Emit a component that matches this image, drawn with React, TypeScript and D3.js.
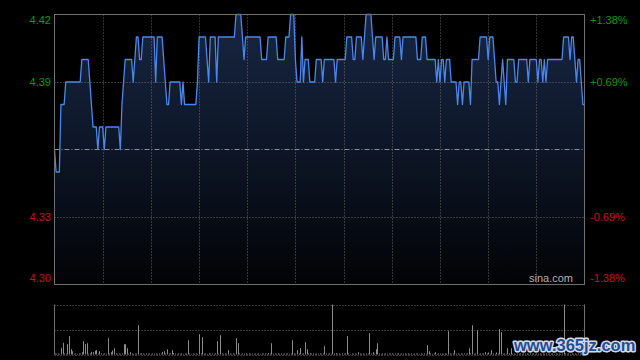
import React from "react";
import * as d3 from "d3";

// per-minute last price (HK session, 331 points)
const PRICE: number[] = [
  4.36, 4.35, 4.35, 4.35, 4.38, 4.38, 4.38, 4.39, 4.39, 4.39,
  4.39, 4.39, 4.39, 4.39, 4.39, 4.39, 4.39, 4.40, 4.40, 4.40,
  4.40, 4.40, 4.39, 4.38, 4.37, 4.37, 4.37, 4.36, 4.37, 4.37,
  4.37, 4.36, 4.37, 4.37, 4.37, 4.37, 4.37, 4.37, 4.37, 4.37,
  4.37, 4.36, 4.38, 4.39, 4.40, 4.40, 4.40, 4.40, 4.40, 4.39,
  4.40, 4.41, 4.41, 4.40, 4.40, 4.41, 4.41, 4.41, 4.41, 4.41,
  4.41, 4.41, 4.41, 4.39, 4.41, 4.41, 4.41, 4.41, 4.40, 4.39,
  4.38, 4.38, 4.39, 4.39, 4.39, 4.39, 4.39, 4.39, 4.39, 4.38,
  4.39, 4.38, 4.38, 4.38, 4.38, 4.38, 4.38, 4.38, 4.38, 4.39,
  4.41, 4.41, 4.41, 4.41, 4.41, 4.40, 4.39, 4.41, 4.41, 4.41,
  4.41, 4.39, 4.41, 4.41, 4.41, 4.41, 4.41, 4.41, 4.41, 4.41,
  4.41, 4.41, 4.41, 4.42, 4.42, 4.42, 4.42, 4.41, 4.40, 4.41,
  4.41, 4.41, 4.41, 4.41, 4.41, 4.41, 4.41, 4.41, 4.41, 4.40,
  4.40, 4.40, 4.40, 4.41, 4.41, 4.41, 4.41, 4.41, 4.41, 4.40,
  4.40, 4.40, 4.40, 4.40, 4.41, 4.41, 4.41, 4.42, 4.42, 4.42,
  4.40, 4.39, 4.39, 4.39, 4.41, 4.39, 4.40, 4.40, 4.40, 4.39,
  4.39, 4.39, 4.39, 4.40, 4.40, 4.40, 4.40, 4.39, 4.40, 4.40,
  4.40, 4.40, 4.40, 4.40, 4.40, 4.39, 4.40, 4.40, 4.40, 4.40,
  4.40, 4.40, 4.41, 4.41, 4.41, 4.41, 4.40, 4.40, 4.41, 4.41,
  4.41, 4.41, 4.40, 4.41, 4.42, 4.42, 4.42, 4.42, 4.41, 4.40,
  4.41, 4.41, 4.41, 4.41, 4.41, 4.40, 4.40, 4.41, 4.40, 4.40,
  4.40, 4.40, 4.41, 4.41, 4.41, 4.41, 4.40, 4.41, 4.41, 4.41,
  4.41, 4.41, 4.41, 4.41, 4.41, 4.41, 4.40, 4.40, 4.40, 4.41,
  4.41, 4.41, 4.40, 4.40, 4.40, 4.40, 4.40, 4.40, 4.39, 4.40,
  4.39, 4.40, 4.40, 4.39, 4.40, 4.40, 4.40, 4.39, 4.39, 4.39,
  4.39, 4.38, 4.39, 4.39, 4.38, 4.39, 4.39, 4.39, 4.39, 4.38,
  4.40, 4.40, 4.40, 4.40, 4.40, 4.41, 4.41, 4.41, 4.41, 4.41,
  4.40, 4.41, 4.41, 4.41, 4.40, 4.39, 4.39, 4.38, 4.39, 4.40,
  4.39, 4.38, 4.40, 4.40, 4.40, 4.40, 4.40, 4.39, 4.39, 4.40,
  4.40, 4.40, 4.40, 4.40, 4.40, 4.39, 4.40, 4.40, 4.40, 4.40,
  4.40, 4.39, 4.40, 4.40, 4.39, 4.40, 4.39, 4.40, 4.40, 4.40,
  4.40, 4.40, 4.40, 4.40, 4.40, 4.40, 4.40, 4.41, 4.41, 4.41,
  4.41, 4.40, 4.41, 4.41, 4.40, 4.39, 4.40, 4.40, 4.39, 4.38,
  4.38,
];

// per-minute volume (relative units)
const VOLUME: number[] = [
  10, 8, 10, 6, 67, 117, 10, 8, 103, 183,
  53, 33, 8, 10, 6, 10, 8, 23, 133, 103,
  113, 8, 10, 27, 23, 37, 43, 8, 33, 10,
  6, 10, 8, 163, 10, 23, 40, 63, 10, 8,
  10, 6, 10, 103, 103, 63, 8, 23, 10, 6,
  8, 10, 293, 8, 13, 10, 6, 10, 8, 10,
  6, 10, 8, 10, 6, 10, 8, 23, 33, 10,
  53, 8, 10, 43, 15, 10, 6, 10, 8, 10,
  6, 10, 8, 143, 10, 6, 10, 8, 10, 6,
  203, 10, 173, 8, 10, 6, 10, 8, 10, 6,
  10, 133, 8, 193, 10, 6, 10, 8, 43, 10,
  6, 10, 8, 163, 113, 10, 6, 10, 8, 10,
  6, 10, 8, 10, 6, 10, 8, 10, 6, 10,
  8, 10, 6, 15, 10, 113, 8, 10, 6, 10,
  8, 10, 6, 10, 8, 10, 6, 10, 143, 10,
  8, 43, 10, 63, 8, 10, 123, 53, 10, 13,
  8, 10, 6, 10, 8, 10, 6, 10, 83, 10,
  8, 10, 6, 500, 10, 13, 8, 10, 6, 10,
  8, 10, 183, 10, 6, 10, 8, 10, 6, 23,
  10, 8, 10, 6, 10, 8, 213, 10, 23, 8,
  53, 113, 10, 6, 10, 8, 10, 6, 10, 8,
  10, 6, 10, 8, 10, 6, 10, 8, 10, 6,
  10, 8, 10, 6, 10, 8, 10, 6, 10, 8,
  10, 6, 93, 33, 10, 8, 10, 23, 6, 10,
  8, 10, 6, 10, 8, 233, 10, 6, 10, 43,
  8, 10, 6, 10, 8, 10, 6, 10, 63, 10,
  293, 8, 10, 243, 6, 10, 8, 10, 23, 10,
  20, 8, 43, 10, 6, 20, 10, 253, 223, 8,
  10, 6, 63, 10, 63, 8, 10, 6, 10, 8,
  10, 6, 10, 8, 10, 6, 10, 8, 10, 6,
  10, 8, 10, 6, 10, 8, 10, 6, 10, 8,
  10, 6, 10, 8, 10, 6, 10, 500, 10, 8,
  10, 6, 10, 8, 10, 6, 10, 8, 10, 6,
  10,
];

const PREV_CLOSE = 4.36;
const PRICE_TICKS = [4.42, 4.39, 4.33, 4.3];
const PRICE_LABELS = ["4.42", "4.39", "4.33", "4.30"];
const PCT_LABELS = ["+1.38%", "+0.69%", "-0.69%", "-1.38%"];
const GRID_MINUTES = [30, 60, 90, 120, 150, 180, 210, 240, 270, 300];
const TOTAL_MINUTES = 330;

export default function App() {
  const W = 640, H = 360;
  const L = 54.5, R = 584.5, T = 14.5, B = 284.5;
  const VT = 304.5, VB = 354.5;

  const x = d3.scaleLinear().domain([0, TOTAL_MINUTES]).range([L, R]);
  const y = d3.scaleLinear().domain([4.3, 4.42]).range([B, T]);
  const vy = d3.scaleLinear().domain([0, d3.max(VOLUME) as number]).range([VB, VT]);

  const line = d3.line<number>().x((_, i) => x(i)).y((d) => y(d));
  const area = d3.area<number>().x((_, i) => x(i)).y0(B).y1((d) => y(d));

  const gridColor = "#6a6a6a";
  const font = "'Liberation Sans', Arial, sans-serif";
  const clampY = (v: number) => Math.max(T + 6, Math.min(B - 6, y(v)));

  return (
    <div>
      <style>{`body{margin:0;background:#000}`}</style>
      <svg width={W} height={H} style={{ display: "block", background: "#000" }}>
        <defs>
          <linearGradient id="fillGrad" gradientUnits="userSpaceOnUse" x1="0" y1={T} x2="0" y2={B}>
            <stop offset="0" stopColor="#172642" />
            <stop offset="0.5" stopColor="#0d1627" />
            <stop offset="1" stopColor="#020305" />
          </linearGradient>
        </defs>
        <rect x={0} y={0} width={W} height={H} fill="#000" />

        {/* price area */}
        <path d={area(PRICE) || ""} fill="url(#fillGrad)" />

        {/* vertical grid */}
        {GRID_MINUTES.map((m) => (
          <line key={"vg" + m} x1={Math.round(x(m)) + 0.5} x2={Math.round(x(m)) + 0.5} y1={T} y2={B}
            stroke={gridColor} strokeDasharray="1,2" />
        ))}
        {/* horizontal grid */}
        {[4.39, 4.33].map((v) => (
          <line key={"hg" + v} x1={L} x2={R} y1={Math.round(y(v)) + 0.5} y2={Math.round(y(v)) + 0.5}
            stroke={gridColor} strokeDasharray="1,2" />
        ))}
        {/* previous close */}
        <line x1={L} x2={R} y1={Math.round(y(PREV_CLOSE)) + 0.5} y2={Math.round(y(PREV_CLOSE)) + 0.5}
          stroke="#8a8f98" strokeDasharray="5,2,1,2" />

        {/* price line */}
        <path d={line(PRICE) || ""} fill="none" stroke="#4a88ee" strokeWidth={1.3} strokeLinejoin="round" />

        {/* border */}
        <rect x={L} y={T} width={R - L} height={B - T} fill="none" stroke="#707070" strokeWidth={1} />

        {/* left labels */}
        {PRICE_TICKS.map((v, i) => (
          <text key={"pl" + i} x={51} y={clampY(v)} dy="0.35em" textAnchor="end" fontFamily={font}
            fontSize={11} fill={v > PREV_CLOSE ? "#0a9a0a" : "#d01010"}>{PRICE_LABELS[i]}</text>
        ))}
        {/* right labels */}
        {PRICE_TICKS.map((v, i) => (
          <text key={"pr" + i} x={590} y={clampY(v)} dy="0.35em" textAnchor="start" fontFamily={font}
            fontSize={11} fill={v > PREV_CLOSE ? "#0a9a0a" : "#d01010"}>{PCT_LABELS[i]}</text>
        ))}

        <text x={573} y={282} textAnchor="end" fontFamily={font} fontSize={11} fill="#b0b0b0">sina.com</text>

        {/* volume panel */}
        {[VT, (VT + VB) / 2, VB].map((yy, i) => (
          <line key={"vh" + i} x1={L} x2={R} y1={Math.round(yy) + 0.5} y2={Math.round(yy) + 0.5}
            stroke={gridColor} strokeDasharray="1,2" />
        ))}
        {VOLUME.map((v, i) => (
          <line key={"vb" + i} x1={Math.round(x(i)) + 0.5} x2={Math.round(x(i)) + 0.5}
            y1={VB} y2={vy(v)} stroke="#8c8c8c" strokeWidth={1} />
        ))}
        <line x1={L} x2={L} y1={VT} y2={VB} stroke="#707070" />
        <line x1={R} x2={R} y1={VT} y2={VB} stroke="#707070" />

        {/* watermark */}
        <text x={514} y={351} fontFamily="'Liberation Sans', Arial, sans-serif" fontWeight="bold" fontSize={16.5}
          fill="#1f4d96" stroke="#d5dbe6" strokeWidth={3}
          paintOrder="stroke" strokeLinejoin="round">www.365jz.com</text>
      </svg>
    </div>
  );
}
